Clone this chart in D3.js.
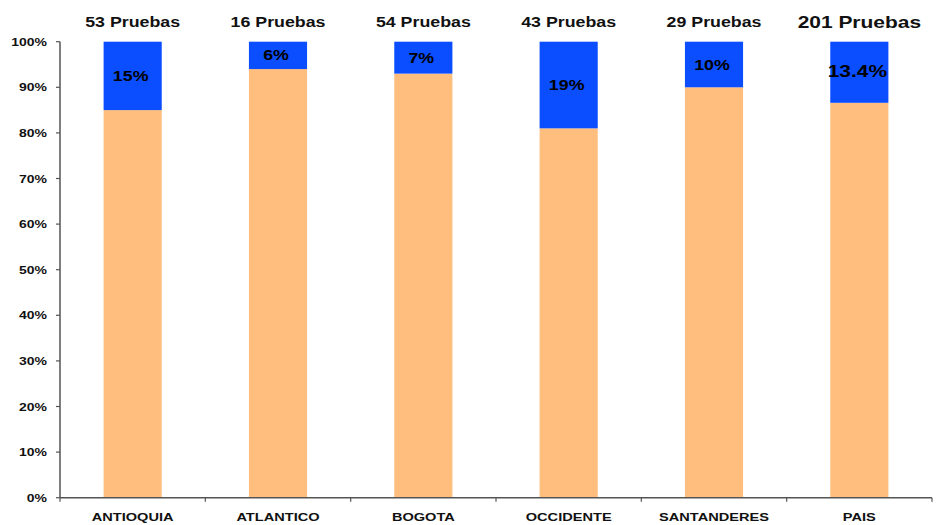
<!DOCTYPE html>
<html>
<head>
<meta charset="utf-8">
<script src="https://cdn.jsdelivr.net/npm/d3@7/dist/d3.min.js"></script>
<style>
  html, body { margin: 0; padding: 0; background: #fff; }
  svg { display: block; font-family: "Liberation Sans", Arial, sans-serif; font-weight: bold; }
</style>
</head>
<body>
<svg id="chart" width="940" height="525"></svg>
<script>
// Regions and share of results per region (100% stacked)
const categories = ["ANTIOQUIA", "ATLANTICO", "BOGOTA", "OCCIDENTE", "SANTANDERES", "PAIS"];
const pruebas = [53, 16, 54, 43, 29, 201];
const pruebasLabels = ["53 Pruebas", "16 Pruebas", "54 Pruebas", "43 Pruebas", "29 Pruebas", "201 Pruebas"];
const basePct = [85, 94, 93, 81, 90, 86.6];
const topPct = [15, 6, 7, 19, 10, 13.4];
const topLabels = ["15%", "6%", "7%", "19%", "10%", "13.4%"];
const yTicks = [0, 10, 20, 30, 40, 50, 60, 70, 80, 90, 100];

const W = 940, H = 525;
const margin = { top: 41.7, right: 8, bottom: 27.3, left: 60 };
const stretch = 1.27; // wide lettering

const svg = d3.select("#chart");
const g = svg.append("g");

const x = d3.scaleBand()
  .domain(categories)
  .range([margin.left, W - margin.right])
  .paddingInner(0.6)
  .paddingOuter(0.3);

const y = d3.scaleLinear()
  .domain([0, 100])
  .range([H - margin.bottom, margin.top]);

function wideText(sel, px, py, txt, size, anchor) {
  return sel.append("text")
    .attr("transform", `translate(${px},${py}) scale(${stretch},1)`)
    .attr("text-anchor", anchor || "middle")
    .attr("font-size", size)
    .attr("fill", "#111")
    .text(txt);
}

const rows = categories.map((c, i) => ({ c, base: basePct[i], top: topPct[i], label: topLabels[i], n: pruebasLabels[i], i }));

// orange base segments
g.selectAll("rect.base").data(rows).join("rect")
  .attr("class", "base")
  .attr("x", d => x(d.c))
  .attr("width", x.bandwidth())
  .attr("y", d => y(d.base))
  .attr("height", d => y(0) - y(d.base))
  .attr("fill", "#FFBE7E");

// blue top segments
g.selectAll("rect.top").data(rows).join("rect")
  .attr("class", "top")
  .attr("x", d => x(d.c))
  .attr("width", x.bandwidth())
  .attr("y", d => y(d.base + d.top))
  .attr("height", d => y(d.base) - y(d.base + d.top))
  .attr("fill", "#0A4EFF");

// percentage labels inside blue segments
rows.forEach(d => {
  const big = d.i === categories.length - 1;
  const cy = (y(d.base) + y(d.base + d.top)) / 2;
  wideText(g, x(d.c) + x.bandwidth() / 2 - 2, cy + 5, d.label, big ? 16.5 : 14)
    .attr("fill", "#000");
});

// test counts above bars
rows.forEach(d => {
  const big = d.i === categories.length - 1;
  wideText(g, x(d.c) + x.bandwidth() / 2, big ? 28 : 27, d.n, big ? 16.5 : 14);
});

// y axis
const axisColor = "#555";
g.append("line")
  .attr("x1", margin.left).attr("x2", margin.left)
  .attr("y1", y(0)).attr("y2", y(100))
  .attr("stroke", axisColor).attr("stroke-width", 1.5);
yTicks.forEach(t => {
  g.append("line")
    .attr("x1", margin.left - 4).attr("x2", margin.left)
    .attr("y1", y(t)).attr("y2", y(t))
    .attr("stroke", axisColor).attr("stroke-width", 1.2);
  wideText(g, margin.left - 13, y(t) + 4, t + "%", 11, "end");
});

// x axis with boundary ticks
const [x0, x1] = x.range();
g.append("line")
  .attr("x1", x0).attr("x2", x1)
  .attr("y1", y(0)).attr("y2", y(0))
  .attr("stroke", axisColor).attr("stroke-width", 1.5);
d3.range(categories.length + 1).forEach(k => {
  const bx = x0 + k * x.step();
  g.append("line")
    .attr("x1", bx).attr("x2", bx)
    .attr("y1", y(0)).attr("y2", y(0) + 4)
    .attr("stroke", axisColor).attr("stroke-width", 1.2);
});
categories.forEach(c => {
  wideText(g, x(c) + x.bandwidth() / 2, 521, c, 11.5);
});
</script>
</body>
</html>
